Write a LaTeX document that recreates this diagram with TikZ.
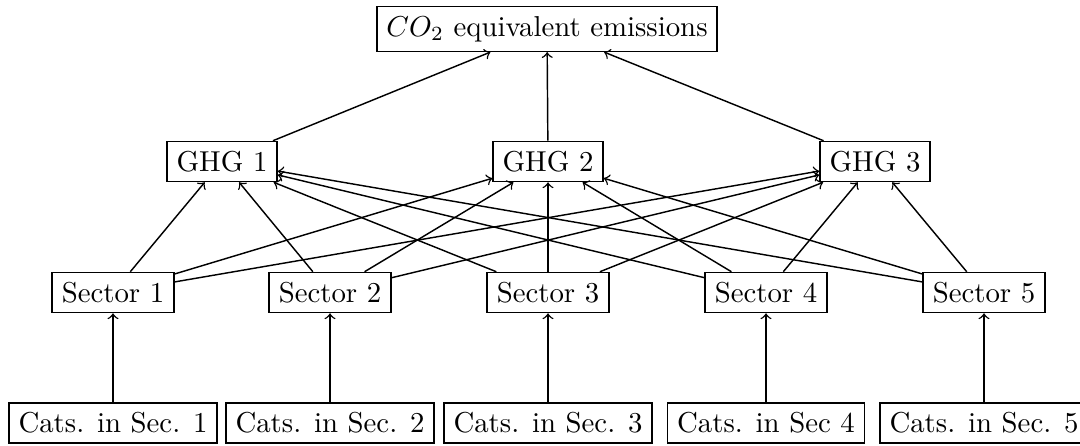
\documentclass[tikz,border=0pt]{standalone}
\begin{document}
\begin{tikzpicture}[x=0.3472pt,y=-0.3472pt,
  box/.style={draw, line width=0.5pt, inner sep=3.33pt},
  edge/.style={->, line width=0.5pt}]
\useasboundingbox (0,0) rectangle (1080,445);
\node[box] (top) at (547,29) {$CO_2$ equivalent emissions};
\node[box] (g1) at (222,161.5) {GHG 1};
\node[box] (g2) at (548,161.5) {GHG 2};
\node[box] (g3) at (875,161.5) {GHG 3};
\node[box] (s1) at (113,292.5) {Sector 1};
\node[box] (s2) at (330,292.5) {Sector 2};
\node[box] (s3) at (548,292.5) {Sector 3};
\node[box] (s4) at (766,292.5) {Sector 4};
\node[box] (s5) at (984,292.5) {Sector 5};
\node[box] (c1) at (113,423) {Cats. in Sec. 1};
\node[box] (c2) at (330,423) {Cats. in Sec. 2};
\node[box] (c3) at (548,423) {Cats. in Sec. 3};
\node[box] (c4) at (766,423) {Cats. in Sec 4};
\node[box] (c5) at (984,423) {Cats. in Sec. 5};
\foreach \g in {g1,g2,g3} \draw[edge] (\g) -- (top);
\foreach \s in {s1,s2,s3,s4,s5}
  \foreach \g in {g1,g2,g3} \draw[edge] (\s) -- (\g);
\foreach \i in {1,...,5} \draw[edge] (c\i) -- (s\i);
\end{tikzpicture}
\end{document}
